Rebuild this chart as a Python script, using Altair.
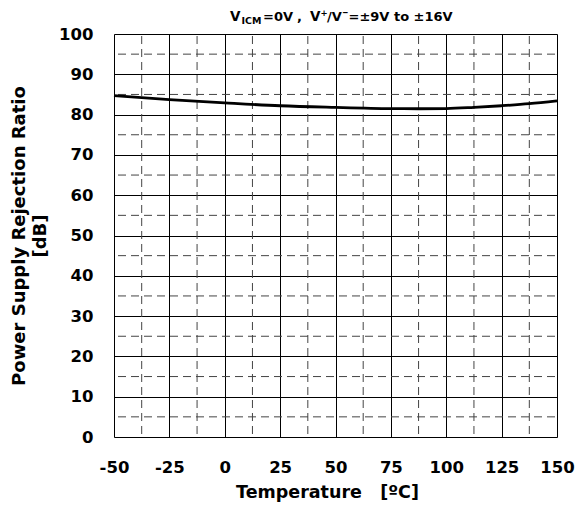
import altair as alt
import pandas as pd

temps = [-50, -25, 0, 25, 50, 75, 87.5, 100, 112.5, 125, 137.5, 150]
psrr = [84.7, 83.7, 82.9, 82.2, 81.8, 81.5, 81.45, 81.5, 81.8, 82.2, 82.7, 83.4]

x_major = [-50, -25, 0, 25, 50, 75, 100, 125, 150]
y_major = [0, 10, 20, 30, 40, 50, 60, 70, 80, 90, 100]
x_minor = [-37.5, -12.5, 12.5, 37.5, 62.5, 87.5, 112.5, 137.5]
y_minor = [5, 15, 25, 35, 45, 55, 65, 75, 85, 95]

FONT = "DejaVu Sans"
W, H = 443, 403
NB = "\u00a0"

df = pd.DataFrame({"t": temps, "v": psrr})
xscale = alt.Scale(domain=[-50, 150], nice=False, zero=False)
yscale = alt.Scale(domain=[0, 100], nice=False, zero=False)

fix_minus = "replace(datum.label, '\u2212', '-')"

line = alt.Chart(df).mark_line(color="black", strokeWidth=2.8, interpolate="monotone").encode(
    x=alt.X("t:Q", scale=xscale,
            axis=alt.Axis(values=x_major, title="Temperature" + NB * 3 + "[ºC]", grid=True, gridColor="black",
                          gridWidth=1, gridOpacity=1, ticks=False, domain=False, labelExpr=fix_minus,
                          labelFont=FONT, labelFontSize=16.5, labelFontWeight="bold", labelColor="black",
                          labelPadding=22, titleFont=FONT, titleFontSize=17.5, titleFontWeight="bold",
                          titleColor="black", titlePadding=8, titleX=213, labelFlush=False)),
    y=alt.Y("v:Q", scale=yscale,
            axis=alt.Axis(values=y_major, title=["Power Supply Rejection Ratio", "[dB]"], grid=True,
                          gridColor="black", gridWidth=1, gridOpacity=1, ticks=False, domain=False,
                          labelFont=FONT, labelFontSize=16.5, labelFontWeight="bold", labelColor="black",
                          labelPadding=21, titleFont=FONT, titleFontSize=18, titleFontWeight="bold",
                          titleColor="black", titlePadding=9, titleLineHeight=21, labelFlush=False)),
)

vminor = alt.Chart(pd.DataFrame({"x": x_minor})).mark_rule(
    color="#444", strokeWidth=1, strokeDash=[8, 5], strokeDashOffset=-2).encode(
    x=alt.X("x:Q", scale=xscale))
hminor = alt.Chart(pd.DataFrame({"y": y_minor})).mark_rule(
    color="#444", strokeWidth=1, strokeDash=[8, 5], strokeDashOffset=-2).encode(
    y=alt.Y("y:Q", scale=yscale))

# title pieces: (text, page_x, page_baseline_y, size)
title_parts = [
    ("V", 230, 21, 13.5),
    ("ICM", 241.5, 24, 9.5),
    ("=0V", 263, 21, 13),
    (",", 297, 21, 13),
    ("V", 310, 21, 13.5),
    ("+", 320.5, 16, 8.5),
    ("/V", 327, 21, 13),
    ("\u2012", 342.5, 15, 8),
    ("=±9V to ±16V", 348.5, 21, 13),
]
layers = [vminor, hminor, line]
for txt, px, py, sz in title_parts:
    layers.append(
        alt.Chart(pd.DataFrame({"a": [0]})).mark_text(
            text=txt, font=FONT, fontSize=sz, fontWeight="bold", color="black",
            align="left", baseline="alphabetic").encode(
            x=alt.value(px - 114), y=alt.value(py - 34))
    )

chart = alt.layer(*layers).properties(
    width=W, height=H,
    autosize=alt.AutoSizeParams(type="none"),
    padding={"left": 106, "top": 26, "right": 20, "bottom": 70},
).configure_view(stroke="black", strokeWidth=2).configure(background="white")

chart.save("out.html", embed_options={"renderer": "svg", "actions": False})
